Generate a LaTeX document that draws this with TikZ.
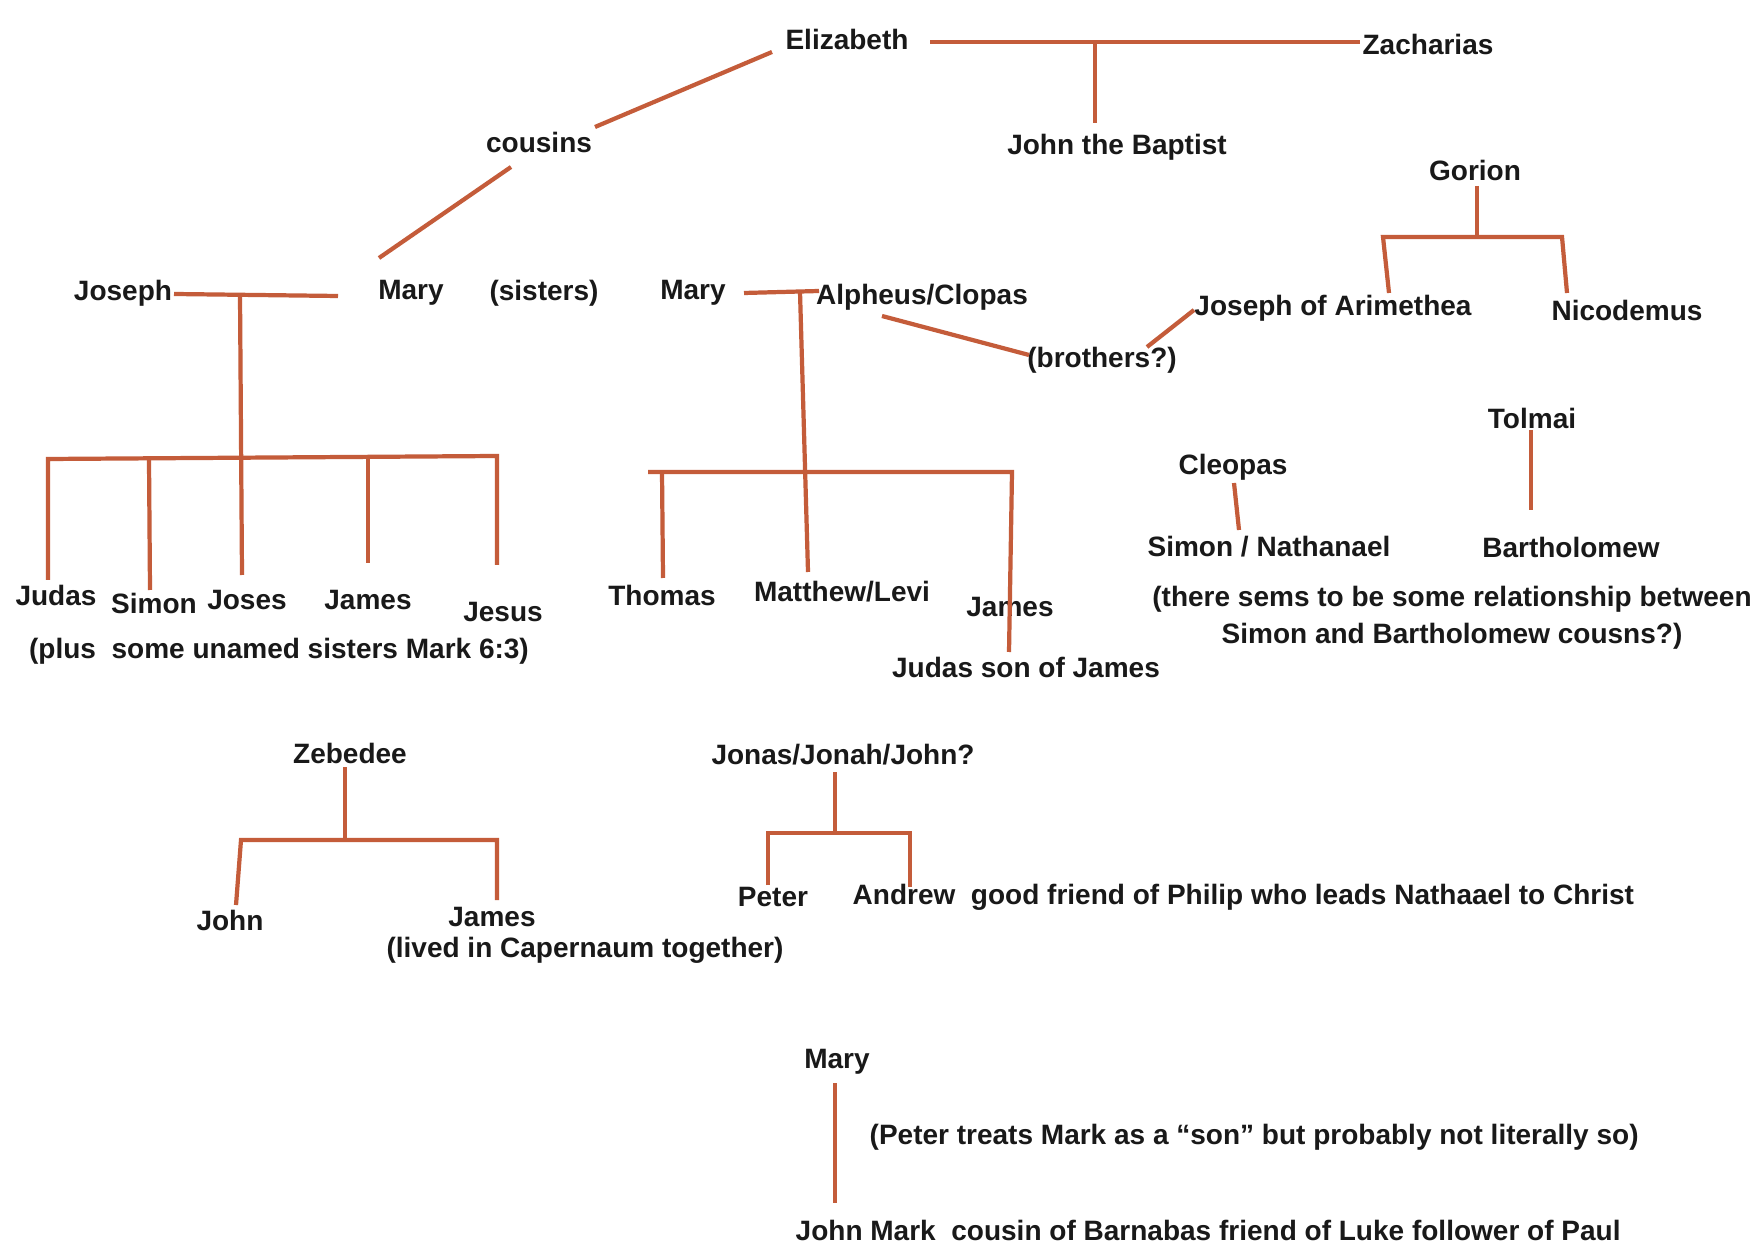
\documentclass[tikz,border=0pt]{standalone}
\usepackage{fontspec}
\setmainfont{Liberation Sans}
\definecolor{ln}{RGB}{196,92,58}
\definecolor{tx}{RGB}{25,25,25}
\begin{document}
\begin{tikzpicture}[x=0.1mm,y=-0.1mm,
  lbl/.style={inner sep=0pt, text=tx, font=\fontsize{7.97pt}{10.5pt}\selectfont\bfseries},
  link/.style={draw=ln, line width=1.2pt}]
\useasboundingbox[fill=white] (0,0) rectangle (1760,1244);

% ---------- nodes ----------
\node[lbl] (eliz) at (847,40) {Elizabeth};
\node[lbl] (zach) at (1428,45) {Zacharias};
\node[lbl] (jtb) at (1117,147) {John the Baptist};
\node[lbl] (cous) at (539,143) {cousins};
\node[lbl] (gorion) at (1475,170) {Gorion};
\node[lbl] (joar) at (1333,308) {Joseph of Arimethea};
\node[lbl] (nico) at (1627,310) {Nicodemus};
\node[lbl] (bro) at (1102,360) {(brothers?)};
\node[lbl] (joseph) at (123,293) {Joseph};
\node[lbl] (mary1) at (411,293) {Mary};
\node[lbl] (sis) at (544,293) {(sisters)};
\node[lbl] (mary2) at (693,293) {Mary};
\node[lbl] (alph) at (922,297) {Alpheus/Clopas};
\node[lbl] (judas) at (56,595) {Judas};
\node[lbl] (simon) at (154,603) {Simon};
\node[lbl] (joses) at (247,600) {Joses};
\node[lbl] (james1) at (368,600) {James};
\node[lbl] (jesus) at (503,612) {Jesus};
\node[lbl] (plus) at (279,651) {(plus\ \ some unamed sisters Mark 6:3)};
\node[lbl] (thomas) at (662,595) {Thomas};
\node[lbl] (matt) at (842,592) {Matthew/Levi};
\node[lbl] (james2) at (1010,607) {James};
\node[lbl] (judasj) at (1026,667) {Judas son of James};
\node[lbl] (cleo) at (1233,467) {Cleopas};
\node[lbl] (simnat) at (1269,547) {Simon / Nathanael};
\node[lbl] (tolmai) at (1532,418) {Tolmai};
\node[lbl] (barth) at (1571,547) {Bartholomew};
\node[lbl, align=center] (rel) at (1452,618) {(there sems to be some relationship between\\Simon and Bartholomew cousns?)};
\node[lbl] (zeb) at (350,753) {Zebedee};
\node[lbl] (john) at (230,920) {John};
\node[lbl] (james3) at (492,917) {James};
\node[lbl] (lived) at (585,950) {(lived in Capernaum together)};
\node[lbl] (jonas) at (843,755) {Jonas/Jonah/John?};
\node[lbl] (peter) at (773,897) {Peter};
\node[lbl, anchor=west] (andrew) at (852,897) {Andrew\ \ good friend of Philip who leads Nathaael to Christ};
\node[lbl] (mary3) at (837,1062) {Mary};
\node[lbl, anchor=west] (ptm) at (869,1137) {(Peter treats Mark as a ``son'' but probably not literally so)};
\node[lbl, anchor=west] (jm) at (795,1230) {John Mark\ \ cousin of Barnabas friend of Luke follower of Paul};

% ---------- coordinates ----------
\coordinate (ez1) at (930,42);   \coordinate (ez2) at (1360,42);
\coordinate (ez3) at (1095,42);  \coordinate (ez4) at (1095,123);
\coordinate (ec1) at (772,52);   \coordinate (ec2) at (595,127);
\coordinate (cm1) at (511,167);  \coordinate (cm2) at (379,258);
\coordinate (g0) at (1477,186);  \coordinate (g1) at (1477,237);
\coordinate (gl) at (1383,237);  \coordinate (gr) at (1562,237);
\coordinate (gl2) at (1389,293); \coordinate (gr2) at (1567,293);
\coordinate (ab1) at (882,316);  \coordinate (ab2) at (1029,355);
\coordinate (bj1) at (1147,347); \coordinate (bj2) at (1194,310);
\coordinate (jm1) at (174,294);  \coordinate (jm2) at (338,296);
\coordinate (jv1) at (240,295);  \coordinate (jv2) at (242,575);
\coordinate (jbL) at (48,459);   \coordinate (jbR) at (497,456);
\coordinate (jud) at (48,580);
\coordinate (sim1) at (149,460); \coordinate (sim2) at (150,590);
\coordinate (jam1) at (368,457); \coordinate (jam2) at (368,563);
\coordinate (jes) at (497,565);
\coordinate (ma1) at (744,293);  \coordinate (ma2) at (819,291);
\coordinate (mv1) at (800,292);  \coordinate (mv2) at (808,572);
\coordinate (mbL) at (648,472);  \coordinate (mbR) at (1012,472);
\coordinate (th1) at (662,472);  \coordinate (th2) at (663,578);
\coordinate (jaj) at (1009,652);
\coordinate (cl1) at (1234,483); \coordinate (cl2) at (1239,530);
\coordinate (to1) at (1531,430); \coordinate (to2) at (1531,510);
\coordinate (ze1) at (345,767);  \coordinate (ze2) at (345,840);
\coordinate (zbL) at (241,840);  \coordinate (zbR) at (497,840);
\coordinate (zjo) at (236,905);  \coordinate (zja) at (497,900);
\coordinate (jn1) at (835,772);  \coordinate (jn2) at (835,833);
\coordinate (jnL) at (768,833);  \coordinate (jnR) at (910,833);
\coordinate (jpe) at (768,885);  \coordinate (jan) at (910,887);
\coordinate (mk1) at (835,1083); \coordinate (mk2) at (835,1203);

% ---------- connectors ----------
\draw[link] (ez1) -- (ez2);
\draw[link] (ez3) -- (ez4);
\draw[link] (ec1) -- (ec2);
\draw[link] (cm1) -- (cm2);
\draw[link] (g0) -- (g1);
\draw[link] (gl2) -- (gl) -- (gr) -- (gr2);
\draw[link] (ab1) -- (ab2);
\draw[link] (bj1) -- (bj2);
\draw[link] (jm1) -- (jm2);
\draw[link] (jv1) -- (jv2);
\draw[link] (jud) -- (jbL) -- (jbR) -- (jes);
\draw[link] (sim1) -- (sim2);
\draw[link] (jam1) -- (jam2);
\draw[link] (ma1) -- (ma2);
\draw[link] (mv1) -- (mv2);
\draw[link] (th2) -- (th1);
\draw[link] (mbL) -- (mbR) -- (jaj);
\draw[link] (cl1) -- (cl2);
\draw[link] (to1) -- (to2);
\draw[link] (ze1) -- (ze2);
\draw[link] (zjo) -- (zbL) -- (zbR) -- (zja);
\draw[link] (jn1) -- (jn2);
\draw[link] (jpe) -- (jnL) -- (jnR) -- (jan);
\draw[link] (mk1) -- (mk2);
\end{tikzpicture}
\end{document}
